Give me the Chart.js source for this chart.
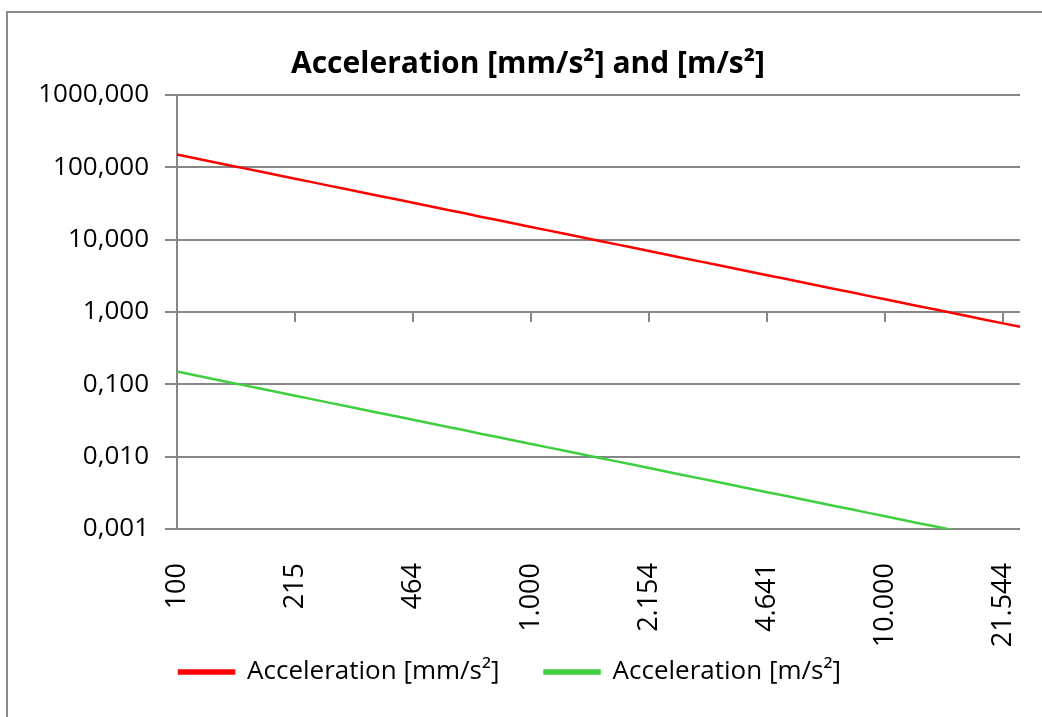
<!DOCTYPE html>
<html>
<head>
<meta charset="utf-8">
<script src="https://cdn.jsdelivr.net/npm/chart.js@4"></script>
<style>
  html, body { margin: 0; padding: 0; background: #fff; overflow: hidden; }
  #frame { position: absolute; left: 6px; top: 11px; width: 1100px; height: 800px;
           border-top: 2px solid #8c8c8c; border-left: 2px solid #8c8c8c; }
  #wrap { position: absolute; left: 0; top: 0; width: 1042px; height: 717px; }
</style>
</head>
<body>
<div id="frame"></div>
<div id="wrap"><canvas id="c" width="1042" height="717"></canvas></div>
<script>
// x categories (21 steps per decade), only every 7th one is labelled
const categories = [
  100, 112, 125, 139, 155, 173, 193, 215, 240, 268, 299, 334, 373, 416, 464,
  518, 578, 645, 720, 803, 896, 1000, 1116, 1245, 1389, 1551, 1730, 1931, 2154,
  2404, 2683, 2994, 3341, 3728, 4160, 4641, 5179, 5780, 6450, 7197, 8031, 8962,
  10000, 11159, 12452, 13895, 15505, 17302, 19307, 21544, 24041
];

// Acceleration [mm/s²]
const accelMm = [
  150, 134.4, 120.5, 107.9, 96.7, 86.7, 77.7, 69.6, 62.4, 55.9, 50.1, 44.9, 40.2,
  36.1, 32.3, 29.0, 26.0, 23.3, 20.8, 18.7, 16.7, 15.0, 13.44, 12.05, 10.80, 9.67,
  8.67, 7.77, 6.96, 6.24, 5.59, 5.01, 4.49, 4.02, 3.61, 3.23, 2.90, 2.60, 2.33,
  2.08, 1.87, 1.67, 1.50, 1.34, 1.20, 1.08, 0.967, 0.867, 0.777, 0.696, 0.624
];

// Acceleration [m/s²]
const accelM = [
  0.150, 0.1344, 0.1205, 0.1079, 0.0967, 0.0867, 0.0777, 0.0696, 0.0624, 0.0559,
  0.0501, 0.0449, 0.0402, 0.0361, 0.0323, 0.0290, 0.0260, 0.0233, 0.0208, 0.0187,
  0.0167, 0.0150, 0.01344, 0.01205, 0.01080, 0.00967, 0.00867, 0.00777, 0.00696,
  0.00624, 0.00559, 0.00501, 0.00449, 0.00402, 0.00361, 0.00323, 0.00290, 0.00260,
  0.00233, 0.00208, 0.00187, 0.00167, 0.00150, 0.00134, 0.00120, 0.00108, 0.000967,
  0.000867, 0.000777, 0.000696, 0.000624
];

const yTicks = [0.001, 0.01, 0.1, 1, 10, 100, 1000];
const LABEL_STEP = 7;

const FONT = "'Open Sans', 'Liberation Sans', sans-serif";
const GRID = "#868686";

const fmtThousands = (v) => String(v).replace(/\B(?=(\d{3})+(?!\d))/g, ".");
const fmtDec = (v) => v.toFixed(3).replace(".", ",");
const noSidePad = (s) => { s.paddingLeft = 0; s.paddingRight = 0; };

// the title sits a bit right of the legend in the original: nudge its box
const titleNudge = {
  id: "titleNudge",
  afterLayout(chart) { if (chart.titleBlock) chart.titleBlock.left += 36; },
};

new Chart(document.getElementById("c"), {
  type: "line",
  data: {
    labels: categories,
    datasets: [
      { label: "Acceleration [mm/s²]", data: accelMm, borderColor: "#ff0000",
        backgroundColor: "#ff0000", borderWidth: 2.5, pointRadius: 0, tension: 0 },
      { label: "Acceleration [m/s²]", data: accelM, borderColor: "#3fcf3f",
        backgroundColor: "#3fcf3f", borderWidth: 2.5, pointRadius: 0, tension: 0 },
    ],
  },
  options: {
    responsive: false, animation: false,
    layout: { padding: { left: 0, right: 22, top: 46, bottom: 22 } },
    scales: {
      y: {
        type: "logarithmic", min: 0.001, max: 1000,
        afterBuildTicks: (s) => { s.ticks = yTicks.map((v) => ({ value: v })); },
        afterFit: (s) => { s.width = 177; },
        ticks: { callback: (v) => fmtDec(v), color: "#000", padding: 16,
          font: { family: FONT, size: 26 } },
        grid: { color: GRID, lineWidth: 2, tickLength: 12, tickColor: GRID },
        border: { color: GRID, width: 2 },
      },
      // category labels, hung below the bottom of the plot (not clipped)
      x: {
        type: "category", position: { y: 0.001 },
        afterFit: noSidePad,
        ticks: {
          autoSkip: false, maxRotation: 90, minRotation: 90, padding: 34,
          color: "#000", font: { family: FONT, size: 27 },
          callback: function (v, i) {
            return i % LABEL_STEP === 0 ? fmtThousands(this.getLabelForValue(v)) : "";
          },
        },
        grid: { display: false, drawTicks: false },
        border: { display: false },
      },
      // tick marks on the line where the axis crosses (y = 1)
      x2: {
        type: "category", position: { y: 1 },
        afterFit: noSidePad,
        ticks: { display: false, autoSkip: false },
        grid: {
          drawOnChartArea: false, drawTicks: true, tickLength: 10, lineWidth: 2,
          tickColor: (ctx) => (ctx.index % LABEL_STEP === 0 ? GRID : "rgba(0,0,0,0)"),
        },
        border: { display: false },
      },
      // empty band that keeps room for the rotated labels above the legend
      xPad: {
        type: "category", position: "bottom",
        afterFit: (s) => { s.height = 85; noSidePad(s); },
        ticks: { display: false },
        grid: { display: false, drawTicks: false },
        border: { display: false },
      },
    },
    plugins: {
      title: {
        display: true, text: "Acceleration [mm/s²] and [m/s²]", color: "#000",
        font: { family: FONT, size: 30, weight: "bold" }, padding: { top: 0, bottom: 13 },
      },
      legend: {
        position: "bottom",
        labels: { boxWidth: 55, boxHeight: 3, padding: 45, color: "#000",
          font: { family: FONT, size: 26 } },
      },
      tooltip: { enabled: false },
    },
  },
  plugins: [titleNudge],
});
</script>
</body>
</html>
